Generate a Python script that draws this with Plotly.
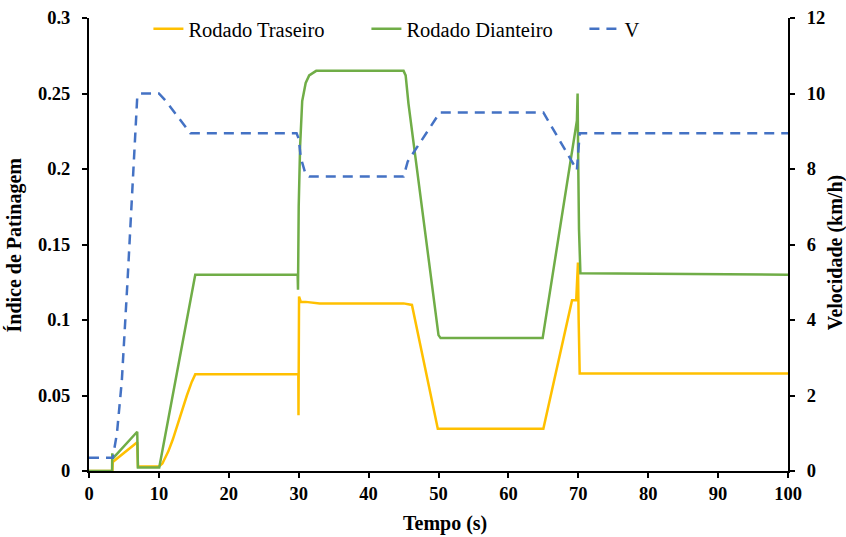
import plotly.graph_objects as go

# Rodado Traseiro (rear wheel) slip index
t_tras = [0, 3.35, 3.4, 5.0, 6.9, 7.0, 10.0, 10.5, 11.35, 12.0, 13.0, 14.0, 14.7, 15.2,
          29.9, 29.95, 29.97, 30.05, 30.3, 31.0, 33.0, 45.0, 46.2, 49.9,
          65.0, 69.1, 69.7, 69.95, 70.05, 70.2, 100]
v_tras = [0, 0, 0.006, 0.012, 0.019, 0.003, 0.003, 0.005, 0.013, 0.021, 0.036, 0.050, 0.059, 0.064,
          0.064, 0.064, 0.037, 0.1155, 0.112, 0.112, 0.111, 0.111, 0.110, 0.028,
          0.028, 0.113, 0.113, 0.138, 0.10, 0.0645, 0.0645]

# Rodado Dianteiro (front wheel) slip index
t_diant = [0, 3.3, 3.33, 3.42, 6.9, 7.0, 10.05, 15.2,
           29.85, 29.9, 30.0, 30.2, 30.5, 31.0, 31.5, 32.5, 45.0, 45.3, 45.7, 50.0, 50.3,
           64.9, 69.8, 69.9, 70.0, 70.1, 70.3, 100]
v_diant = [0, 0, 0.0117, 0.0084, 0.026, 0.0024, 0.0024, 0.130,
           0.130, 0.120, 0.175, 0.215, 0.245, 0.257, 0.262, 0.265, 0.265, 0.262, 0.2435, 0.090, 0.088,
           0.088, 0.232, 0.250, 0.20, 0.16, 0.131, 0.130]

# V (velocity, km/h)
t_vel = [0, 3.4, 4.0, 4.7, 5.5, 6.25, 6.9, 7.3, 10.0, 11.0, 14.5, 15.0,
         29.7, 30.0, 30.3, 31.0, 31.5, 45.0, 45.6, 50.2,
         65.0, 69.8, 70.0, 70.2, 100]
v_vel = [0.35, 0.35, 1.0, 2.4, 5.0, 7.7, 9.9, 10.0, 10.0, 9.8, 8.95, 8.95,
         8.95, 8.8, 8.3, 7.85, 7.8, 7.8, 8.2, 9.5,
         9.5, 7.97, 8.5, 8.95, 8.95]

x_ticks = list(range(0, 101, 10))
y_left_ticks = [0, 0.05, 0.1, 0.15, 0.2, 0.25, 0.3]
y_left_labels = ["0", "0.05", "0.1", "0.15", "0.2", "0.25", "0.3"]
y_right_ticks = [0, 2, 4, 6, 8, 10, 12]

x_title = "Tempo (s)"
y_left_title = "Índice de Patinagem"
y_right_title = "Velocidade (km/h)"

serif = "Liberation Serif"
tickfont = dict(family=serif, size=18.5, color="black", weight="bold")
titlefont = dict(family=serif, size=20, color="black", weight="bold")
axis_common = dict(showgrid=False, zeroline=False, showline=True, linecolor="black",
                   linewidth=2, ticks="outside", ticklen=5, tickcolor="black",
                   tickwidth=2, tickfont=tickfont, automargin=False)

fig = go.Figure()
fig.add_trace(go.Scatter(x=t_tras, y=v_tras, mode="lines", name="Rodado Traseiro",
                         line=dict(color="#FFC000", width=2.5)))
fig.add_trace(go.Scatter(x=t_diant, y=v_diant, mode="lines", name="Rodado Dianteiro",
                         line=dict(color="#70AD47", width=2.5)))
fig.add_trace(go.Scatter(x=t_vel, y=v_vel, mode="lines", name="V", yaxis="y2",
                         line=dict(color="#4472C4", width=2.5, dash="10px,7px")))

fig.update_layout(
    width=846, height=537,
    margin=dict(l=89, r=58, t=18, b=66, autoexpand=False),
    paper_bgcolor="white", plot_bgcolor="white",
    font=dict(family=serif, color="black"),
    showlegend=True,
    legend=dict(orientation="h", x=0.085, y=1.02, xanchor="left", yanchor="top",
                font=dict(family=serif, size=20.5, color="black"),
                bgcolor="rgba(0,0,0,0)", entrywidth=173, entrywidthmode="pixels",
                tracegroupgap=0),
    xaxis=dict(range=[0, 100], tickvals=x_ticks, **axis_common),
    yaxis=dict(range=[0, 0.3], tickvals=y_left_ticks, ticktext=y_left_labels,
               ticklabelstandoff=8, **axis_common),
    yaxis2=dict(range=[0, 12], tickvals=y_right_ticks, overlaying="y", side="right",
                ticklabelstandoff=8, **axis_common),
    annotations=[
        dict(text=x_title, xref="paper", yref="paper", x=0.509, y=-0.1148,
             xanchor="center", yanchor="middle", showarrow=False, font=titlefont),
        dict(text=y_left_title, xref="paper", yref="paper", x=-0.1059, y=0.5,
             xanchor="center", yanchor="middle", showarrow=False, textangle=-90,
             font=titlefont),
        dict(text=y_right_title, xref="paper", yref="paper", x=1.0672, y=0.483,
             xanchor="center", yanchor="middle", showarrow=False, textangle=-90,
             font=titlefont),
    ],
)

fig.write_html("out.html",
               config={"displayModeBar": False},
               post_script="document.body.style.margin='0';"
                           "document.body.style.overflow='hidden';")
